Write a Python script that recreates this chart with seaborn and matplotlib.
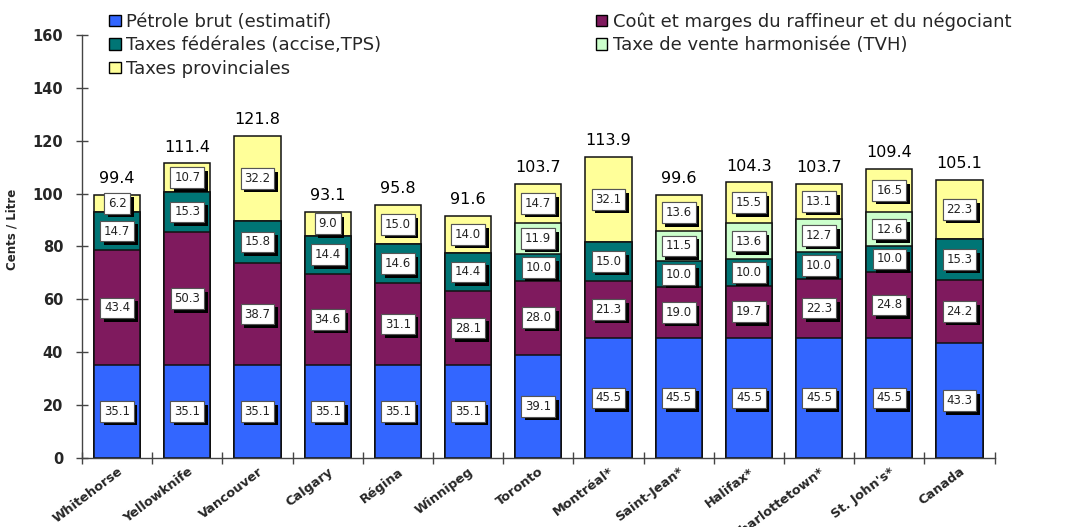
import matplotlib
matplotlib.use("Agg")
import matplotlib.pyplot as plt
import matplotlib.patheffects as pe
from matplotlib.patches import Patch
import seaborn as sns
import numpy as np

cities = ["Whitehorse", "Yellowknife", "Vancouver", "Calgary", "Régina", "Winnipeg",
          "Toronto", "Montréal*", "Saint-Jean*", "Halifax*", "Charlottetown*",
          "St. John's*", "Canada"]
crude = [35.1, 35.1, 35.1, 35.1, 35.1, 35.1, 39.1, 45.5, 45.5, 45.5, 45.5, 45.5, 43.3]
refining = [43.4, 50.3, 38.7, 34.6, 31.1, 28.1, 28.0, 21.3, 19.0, 19.7, 22.3, 24.8, 24.2]
federal = [14.7, 15.3, 15.8, 14.4, 14.6, 14.4, 10.0, 15.0, 10.0, 10.0, 10.0, 10.0, 15.3]
hst = [0, 0, 0, 0, 0, 0, 11.9, 0, 11.5, 13.6, 12.7, 12.6, 0]
provincial = [6.2, 10.7, 32.2, 9.0, 15.0, 14.0, 14.7, 32.1, 13.6, 15.5, 13.1, 16.5, 22.3]
totals = [99.4, 111.4, 121.8, 93.1, 95.8, 91.6, 103.7, 113.9, 99.6, 104.3, 103.7, 109.4, 105.1]

series_names = ["Pétrole brut (estimatif)", "Coût et marges du raffineur et du négociant",
                "Taxes fédérales (accise,TPS)", "Taxe de vente harmonisée (TVH)",
                "Taxes provinciales"]
colors = ["#3366FF", "#7F1A5E", "#007575", "#CCFFCC", "#FFFF99"]
layers = [crude, refining, federal, hst, provincial]

sns.set_theme(style="white")
plt.rcParams["font.family"] = ["DejaVu Sans"]

fig = plt.figure(figsize=(10.87, 5.27), dpi=100)
ax = fig.add_axes([0.0754, 0.131, 0.8396, 0.8026])

arr = np.array(layers)
cum = np.cumsum(arr, axis=0)

for k in range(len(layers) - 1, -1, -1):
    sns.barplot(x=cities, y=cum[k], color=colors[k], saturation=1, width=0.66,
                edgecolor="#111111", linewidth=1.1, ax=ax, zorder=2)

handles = [Patch(facecolor=colors[k], edgecolor="black", linewidth=1.0)
           for k in range(len(layers))]

shadow = [pe.withSimplePatchShadow(offset=(2.6, -2.6), shadow_rgbFace="black", alpha=1.0),
          pe.Normal()]
for k in range(len(layers)):
    bottoms = cum[k] - arr[k]
    for i, v in enumerate(arr[k]):
        if v <= 0:
            continue
        y = bottoms[i] + v / 2
        t = ax.text(i, y, f"{v:.1f}", ha="center", va="center", fontsize=8.5,
                    color="#222222", zorder=4,
                    bbox=dict(boxstyle="square,pad=0.32", fc="white", ec="#555555", lw=0.8))
        t.get_bbox_patch().set_path_effects(shadow)

for i, t in enumerate(totals):
    ax.text(i, t + 3.3, f"{t:.1f}", ha="center", va="bottom", fontsize=11.5, color="black")

ax.set_xlim(-0.5, len(cities) - 0.5)
ax.set_ylim(0, 160)
ax.set_yticks(np.arange(0, 161, 20))
ax.set_yticklabels([str(v) for v in range(0, 161, 20)], fontsize=10.5, fontweight="bold")
ax.tick_params(axis="y", which="major", direction="inout", length=9, width=1,
               color="#444444", left=True, pad=9)
ax.set_xticks(range(len(cities)))
ax.set_xticklabels(cities, rotation=37, ha="right", rotation_mode="anchor",
                   fontsize=9.3, fontweight="bold")
ax.tick_params(axis="x", which="major", length=0, pad=5)
ax.set_xticks(np.arange(-0.5, len(cities) + 0.5, 1), minor=True)
ax.tick_params(axis="x", which="minor", direction="inout", length=9, width=1,
               color="#444444", bottom=True)
ax.set_ylabel("Cents / Litre", fontsize=8.5, fontweight="bold")
ax.yaxis.set_label_coords(-0.07, 0.54)
ax.set_xlabel("")

for s in ["top", "right"]:
    ax.spines[s].set_visible(False)
for s in ["left", "bottom"]:
    ax.spines[s].set_color("#444444")
    ax.spines[s].set_linewidth(1)

order = [0, 2, 4, 1, 3]
fig.legend([handles[k] for k in order], [series_names[k] for k in order],
           loc="upper left", bbox_to_anchor=(0.094, 0.99), ncol=2, frameon=False,
           fontsize=13, handlelength=0.62, handleheight=0.62, handletextpad=0.3,
           labelspacing=0.3, columnspacing=11.9, borderaxespad=0)

fig.savefig("out.png", dpi=100)
